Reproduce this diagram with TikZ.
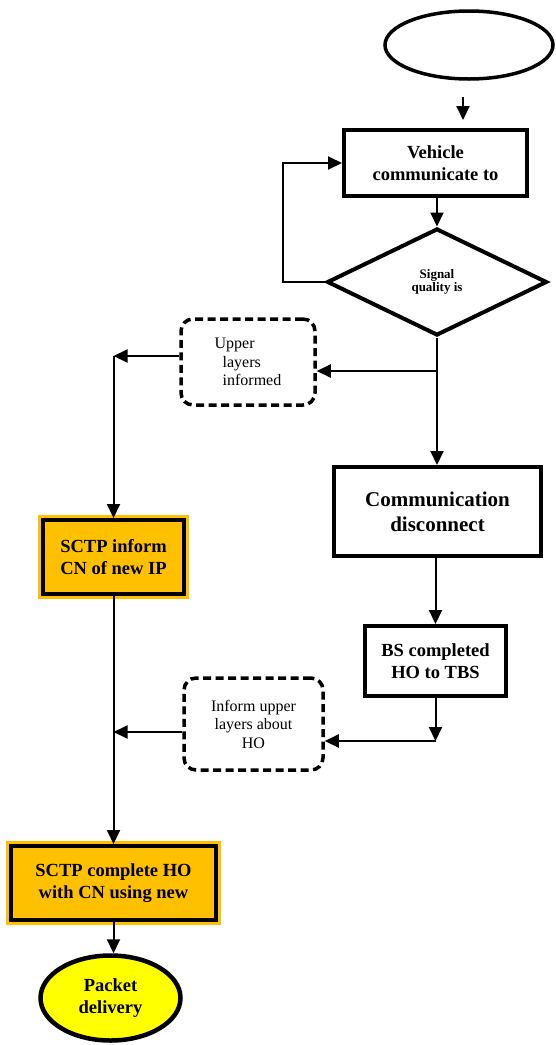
\documentclass[tikz,border=0pt]{standalone}
\usepackage{fontspec}
\setmainfont{Liberation Serif}
\usetikzlibrary{arrows.meta,
                calc,
                positioning,
                shapes.geometric}
\definecolor{sctporange}{HTML}{FFC000}
\definecolor{pktyellow}{HTML}{FFFF00}

\begin{document}
\begin{tikzpicture}[x=1pt,y=-1pt,
    box/.style={draw,rectangle,line width=4pt,align=center,inner sep=2pt,
                font=\bfseries\fontsize{18.5}{21.7}\selectfont},
    hobox/.style={box,fill=sctporange,preaction={draw=sctporange,line width=10pt}},
    dbox/.style={draw,rectangle,line width=3.5pt,dash pattern=on 8pt off 4.5pt,
                 rounded corners=12pt,font=\fontsize{16}{18.5}\selectfont},
    arr/.style={line width=2pt,-{Triangle[length=14pt,width=13pt]}}]
  \useasboundingbox (0,0) rectangle (556,1045);
  % right column
  \node[draw,ellipse,line width=3.5pt,minimum width=168pt,minimum height=68pt] (start) at (469,45) {};
  \node[box,minimum width=183pt,minimum height=66pt] (veh) at (435.5,163) {Vehicle\\communicate to};
  \node[draw,diamond,line width=4pt,inner sep=0pt,minimum width=220pt,minimum height=107pt,
        align=center,font=\bfseries\fontsize{13}{13}\selectfont] (sig) at (437,282) {Signal\\quality is};
  \node[box,minimum width=207pt,minimum height=89pt,font=\bfseries\fontsize{21}{25}\selectfont]
        (comm) at (437.5,511.5) {Communication\\disconnect};
  \node[box,minimum width=141pt,minimum height=70pt] (bs) at (435.5,661) {BS completed\\HO to TBS};
  % dashed notes
  \node[dbox,align=left,minimum width=134pt,minimum height=86pt] (up) at (248,362)
        {Upper\\\hspace*{8pt}layers\\\hspace*{8pt}informed};
  \node[dbox,align=center,minimum width=139pt,minimum height=92pt] (inf) at (253.5,724)
        {Inform upper\\layers about\\HO};
  % left column
  \node[hobox,minimum width=141pt,minimum height=74pt] (sinf) at (113.5,557) {SCTP inform\\CN of new IP};
  \node[hobox,minimum width=205pt,minimum height=74pt] (scom) at (113.5,883) {SCTP complete HO\\with CN using new};
  \node[draw,ellipse,fill=pktyellow,line width=4.5pt,minimum width=140pt,minimum height=85pt,
        align=center,font=\bfseries\fontsize{18.5}{21.7}\selectfont] (pkt) at (110.5,998) {Packet\\delivery};

  \coordinate (a0) at (463,97);
  \coordinate (b1) at (437,371);
  \coordinate (c1) at (113.5,356);
  \coordinate (c2) at (435.5,741);
  \coordinate (c3) at (113.5,732);

  \draw[arr,shorten >=8pt] (a0) -- (a0 |- veh.north);
  \draw[arr] (veh.south -| sig.north) -- (sig.north);
  \draw[arr] (sig.west) -- ++(-42,0) |- (veh.west);
  \draw[arr] (sig.south) -- (sig.south |- comm.north);
  \draw[arr] (b1) -- (b1 -| up.east);
  \draw[arr] (c1 -| up.west) -- (c1);
  \draw[arr] (c1) -- (sinf.north);
  \draw[arr] (comm.south -| bs.north) -- (bs.north);
  \draw[arr] (bs.south) -- (c2);
  \draw[arr] (c2) -- (c2 -| inf.east);
  \draw[arr] (c3 -| inf.west) -- (c3);
  \draw[line width=2pt] (sinf.south) -- (c3);
  \draw[arr] (c3) -- (scom.north);
  \draw[arr] (scom.south) -- (scom.south |- pkt.north);
\end{tikzpicture}
\end{document}
